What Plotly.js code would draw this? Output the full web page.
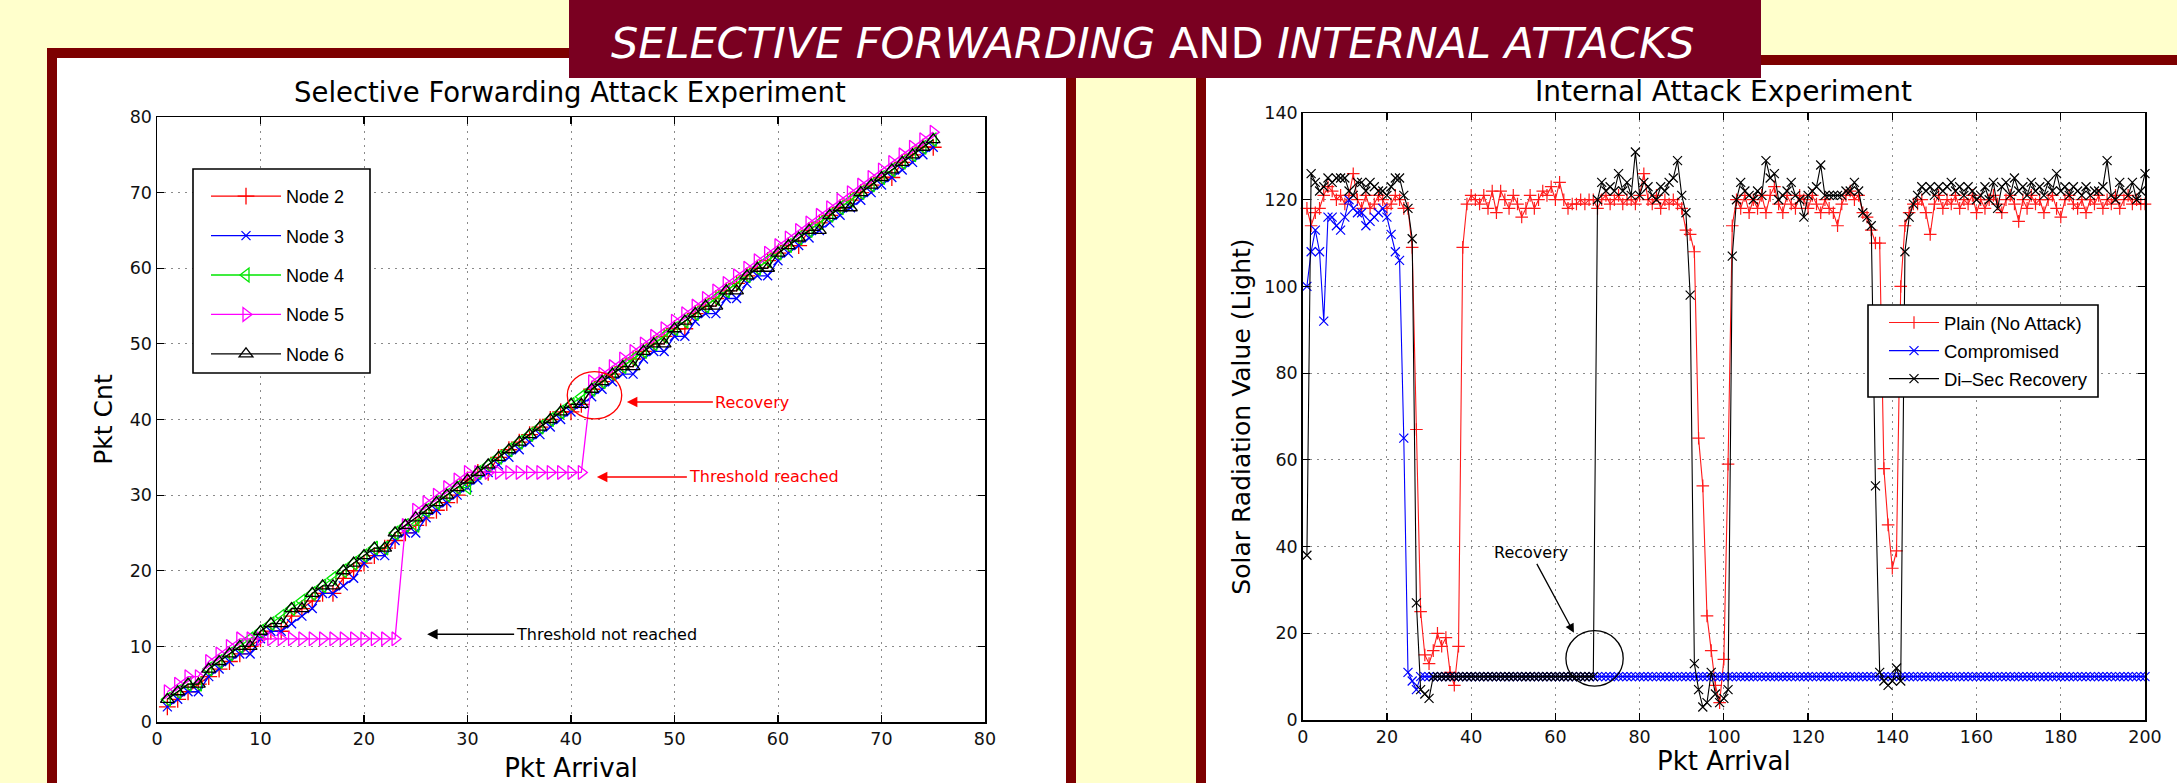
<!DOCTYPE html>
<html><head><meta charset="utf-8">
<script src="https://cdn.plot.ly/plotly-3.0.1.min.js"></script>
<style>html,body{margin:0;padding:0;background:#ffffcc;overflow:hidden}#chart{width:2177px;height:783px}</style>
</head><body><div id="chart"></div>
<script>
// ---------- Left chart: Selective Forwarding Attack Experiment ----------
const pktArrivalLeft = [1,2,3,4,5,6,7,8,9,10,11,12,13,14,15,16,17,18,19,20,21,22,23,24,25,26,27,28,29,30,31,32,33,34,35,36,37,38,39,40,41,42,43,44,45,46,47,48,49,50,51,52,53,54,55,56,57,58,59,60,61,62,63,64,65,66,67,68,69,70,71,72,73,74,75];
const node2 = [2,3,4,5,6,7,8,9,10,11, 12,12,14,15,16,17,17,19,20,21, 22,23,24,25,26,27,28,29,30,32, 33,33,35,36,37,38,39,40,41,41, 42,44,45,46,47,48,49,50,51,52, 52,54,55,56,57,58,59,60,61,62, 63,63,65,66,67,68,69,70,71,72, 72,74,75,76,76];
const node3 = [2,3,4,4,6,7,8,9,9,11, 12,12,13,14,15,17,17,18,19,21, 22,22,24,25,25,27,28,29,30,31, 32,33,34,35,36,37,38,39,40,41, 42,43,44,45,46,46,48,49,49,51, 51,53,54,54,56,56,58,59,59,61, 62,63,64,65,66,67,68,69,70,71, 72,73,74,75,76];
const node4 = [3,4,5,5,7,8,9,10,11,12, 13,14,15,16,17,18,19,20,21,22, 23,23,25,26,26,28,29,30,31,31, 33,34,35,36,37,38,39,40,41,42, 43,44,45,46,47,48,49,50,51,52, 53,54,55,56,57,58,59,60,61,62, 63,64,65,66,67,68,69,70,71,72, 73,74,75,76,77];
const node5 = [4,5,6,6,8,9,10,11,11,11, 11,11,11,11,11,11,11,11,11,11, 11,11,11,26,28,29,30,31,32,33, 33,33,33,33,33,33,33,33,33,33, 33,45,46,47,48,49,50,51,52,53, 54,55,56,57,58,59,60,61,62,63, 64,65,66,67,68,69,70,71,72,73, 74,75,76,77,78];
const node6 = [3,4,5,5,7,8,9,10,10,12, 13,13,15,15,17,18,18,20,21,22, 23,23,25,26,27,28,29,30,31,32, 33,34,35,36,37,38,39,40,41,42, 42,44,45,46,47,47,49,50,50,52, 53,54,55,55,57,57,59,60,60,62, 63,64,65,65,67,68,68,70,71,72, 73,74,75,76,77];
const leftNames = ['Node 2','Node 3','Node 4','Node 5','Node 6'];
const leftXTicks = [0,10,20,30,40,50,60,70,80];
const leftYTicks = [0,10,20,30,40,50,60,70,80];

// ---------- Right chart: Internal Attack Experiment ----------
const pktArrivalRight = [1,2,3,4,5,6,7,8,9,10,11,12,13,14,15,16,17,18,19,20,21,22,23,24,25,26,27,28,29,30,31,32,33,34,35,36,37,38,39,40,41,42,43,44,45,46,47,48,49,50,51,52,53,54,55,56,57,58,59,60,61,62,63,64,65,66,67,68,69,70,71,72,73,74,75,76,77,78,79,80,81,82,83,84,85,86,87,88,89,90,91,92,93,94,95,96,97,98,99,100,101,102,103,104,105,106,107,108,109,110,111,112,113,114,115,116,117,118,119,120,121,122,123,124,125,126,127,128,129,130,131,132,133,134,135,136,137,138,139,140,141,142,143,144,145,146,147,148,149,150,151,152,153,154,155,156,157,158,159,160,161,162,163,164,165,166,167,168,169,170,171,172,173,174,175,176,177,178,179,180,181,182,183,184,185,186,187,188,189,190,191,192,193,194,195,196,197,198,199,200];
const plainNoAttack = [118,114,117,118,121,123,122,120,121,119, 121,126,120,118,121,118,119,121,120,118, 119,121,120,118,118,109,67,25,15,13, 16,20,17,19,11,8,17,109,119,121, 120,119,121,118,122,117,122,120,118,121, 119,116,118,121,118,120,122,121,123,120, 124,120,118,119,119,120,119,120,120,118, 120,121,119,120,121,119,120,120,119,121, 126,120,119,121,118,120,119,120,119,118, 113,112,108,65,54,24,16,8,4,14, 59,114,120,118,121,117,120,118,121,117, 121,123,119,117,121,119,118,121,120,118, 121,119,117,120,118,117,114,119,121,122, 120,121,117,116,113,110,110,58,45,35, 39,100,114,117,119,119,120,117,112,119, 121,118,120,119,121,118,120,119,121,117, 120,118,120,121,119,117,120,121,119,115, 120,118,121,119,120,117,120,121,118,116, 120,121,119,118,120,117,120,119,121,118, 120,119,121,118,120,121,119,120,119,119];
const compromised = [100,108,113,108,92,116,116,114,113,116, 120,118,117,117,114,115,116,117,118,116, 112,108,106,65,11,9,7,10,10,10, 10,10,10,10,10,10,10,10,10,10, 10,10,10,10,10,10,10,10,10,10, 10,10,10,10,10,10,10,10,10,10, 10,10,10,10,10,10,10,10,10,10, 10,10,10,10,10,10,10,10,10,10, 10,10,10,10,10,10,10,10,10,10, 10,10,10,10,10,10,10,10,10,10, 10,10,10,10,10,10,10,10,10,10, 10,10,10,10,10,10,10,10,10,10, 10,10,10,10,10,10,10,10,10,10, 10,10,10,10,10,10,10,10,10,10, 10,10,10,10,10,10,10,10,10,10, 10,10,10,10,10,10,10,10,10,10, 10,10,10,10,10,10,10,10,10,10, 10,10,10,10,10,10,10,10,10,10, 10,10,10,10,10,10,10,10,10,10, 10,10,10,10,10,10,10,10,10,10];
const diSecRecovery = [38,126,124,122,123,125,124,125,125,125, 122,121,124,124,122,124,123,122,122,121, 123,125,125,121,118,111,27,7,6,5, 10,10,10,10,10,10,10,10,10,10, 10,10,10,10,10,10,10,10,10,10, 10,10,10,10,10,10,10,10,10,10, 10,10,10,10,10,10,10,10,10,120, 124,122,123,122,126,122,124,121,131,121, 124,123,121,120,123,122,124,125,129,121, 117,98,13,7,3,4,11,6,4,5, 7,107,120,124,122,121,120,122,121,129, 125,126,120,121,122,124,121,120,116,121, 122,123,128,121,121,121,121,121,122,122, 124,122,117,116,114,54,11,9,8,9, 12,9,108,116,119,121,123,122,123,121, 123,122,123,124,122,123,121,123,122,120, 121,123,120,124,118,123,124,121,125,122, 123,121,124,122,123,121,124,122,126,122, 123,121,123,122,121,123,121,122,122,123, 129,121,120,124,122,121,124,120,122,126];
const rightNames = ['Plain (No Attack)','Compromised','Di\u2013Sec Recovery'];
const rightXTicks = [0,20,40,60,80,100,120,140,160,180,200];
const rightYTicks = [0,20,40,60,80,100,120,140];

// ---------- styles ----------
const W = 2177, H = 783;
const px = v => v / W;          // pixel -> paper x
const py = v => 1 - v / H;      // pixel -> paper y
const leftColors = ['#ff0000','#0000ff','#00e600','#ff00ff','#000000'];
const leftSymbols = ['cross-thin','x-thin','triangle-left-open','triangle-right-open','triangle-up-open'];
const leftSizes = [12,9,12,12,12];
const rightColors = ['#ff1a1a','#0000ff','#000000'];
const rightSymbols = ['cross-thin','x-thin','x-thin'];
const FONT = 'DejaVu Sans, sans-serif';

const leftSeries = [node2,node3,node4,node5,node6];
const traces = [];
leftSeries.forEach((ys,i)=>{
  traces.push({
    x: pktArrivalLeft, y: ys, name: leftNames[i], type:'scatter', mode:'lines+markers',
    xaxis:'x', yaxis:'y', legend:'legend', legendgroup:'L'+i, cliponaxis:false,
    line:{color:leftColors[i], width:1.3},
    marker:{symbol:leftSymbols[i], size:leftSizes[i], color:leftColors[i], line:{color:leftColors[i], width:1.3}}
  });
});
const rightSeries = [plainNoAttack, compromised, diSecRecovery];
rightSeries.forEach((ys,i)=>{
  traces.push({
    x: pktArrivalRight, y: ys, name: rightNames[i], type:'scatter', mode:'lines+markers',
    xaxis:'x2', yaxis:'y2', legend:'legend2', legendgroup:'R'+i, cliponaxis:false,
    line:{color:rightColors[i], width:1.1},
    marker:{symbol:rightSymbols[i], size:9, color:rightColors[i], line:{color:rightColors[i], width:1.2}}
  });
});

const axisBase = {
  showline:true, linecolor:'#000', linewidth:1.5, mirror:'ticks',
  ticks:'inside', ticklen:7, tickwidth:1.2, tickcolor:'#000',
  showgrid:true, gridcolor:'#8a8a8a', gridwidth:1, griddash:'2px,5px',
  zeroline:false, automargin:false, tickmode:'array',
  tickfont:{family:FONT, size:17.5, color:'#111'}
};

const layout = {
  width:W, height:H, margin:{l:0,r:0,t:0,b:0},
  paper_bgcolor:'#ffffcc', plot_bgcolor:'#ffffff', showlegend:true,
  xaxis: Object.assign({}, axisBase, {domain:[px(157),px(985)], range:[0,80], tickvals:leftXTicks, anchor:'y',
    title:{text:'Pkt Arrival', font:{family:FONT, size:26, color:'#000'}, standoff:11}}),
  yaxis: Object.assign({}, axisBase, {domain:[py(722),py(117)], range:[0,80], tickvals:leftYTicks, anchor:'x',
    title:{text:'Pkt Cnt', font:{family:FONT, size:25, color:'#000'}, standoff:10}}),
  xaxis2: Object.assign({}, axisBase, {domain:[px(1302.7),px(2145)], range:[0,200], tickvals:rightXTicks, anchor:'y2',
    title:{text:'Pkt Arrival', font:{family:FONT, size:26, color:'#000'}, standoff:4}}),
  yaxis2: Object.assign({}, axisBase, {domain:[py(720),py(113)], range:[0,140], tickvals:rightYTicks, anchor:'x2',
    title:{text:'Solar Radiation Value (Light)', font:{family:FONT, size:25, color:'#000'}, standoff:6}}),
  legend: {x:px(206), y:py(178), xanchor:'left', yanchor:'top', bgcolor:'rgba(0,0,0,0)', borderwidth:0,
    font:{family:'Liberation Sans, Arial, sans-serif', size:18, color:'#000'}, itemwidth:70, tracegroupgap:13, traceorder:'grouped'},
  legend2: {x:px(1884), y:py(304), xanchor:'left', yanchor:'top', bgcolor:'rgba(0,0,0,0)', borderwidth:0,
    font:{family:'Liberation Sans, Arial, sans-serif', size:18.5, color:'#000'}, itemwidth:50, tracegroupgap:1, traceorder:'grouped'},
  shapes: [
    // slide panels
    {type:'rect', xref:'paper', yref:'paper', x0:px(47), x1:px(1076), y0:-0.1, y1:py(48), fillcolor:'#7d0000', line:{width:0}, layer:'below'},
    {type:'rect', xref:'paper', yref:'paper', x0:px(57), x1:px(1066), y0:-0.1, y1:py(58), fillcolor:'#ffffff', line:{width:0}, layer:'below'},
    {type:'rect', xref:'paper', yref:'paper', x0:px(1196), x1:1.1, y0:-0.1, y1:py(55), fillcolor:'#7d0000', line:{width:0}, layer:'below'},
    {type:'rect', xref:'paper', yref:'paper', x0:px(1206), x1:1.1, y0:-0.1, y1:py(65), fillcolor:'#ffffff', line:{width:0}, layer:'below'},
    // banner
    {type:'rect', xref:'paper', yref:'paper', x0:px(569), x1:px(1761), y0:py(78), y1:1.02, fillcolor:'#7a0021', line:{width:0}, layer:'above'},
    // legend frames
    {type:'rect', xref:'paper', yref:'paper', x0:px(193), x1:px(370), y0:py(373), y1:py(169), fillcolor:'#ffffff', line:{color:'#000', width:1.6}, layer:'above'},
    {type:'rect', xref:'paper', yref:'paper', x0:px(1868), x1:px(2098), y0:py(397), y1:py(305), fillcolor:'#ffffff', line:{color:'#000', width:1.6}, layer:'above'},
    // highlight circles
    {type:'circle', xref:'x', yref:'y', x0:42.27-2.63, x1:42.27+2.63, y0:43.2-3.13, y1:43.2+3.13, line:{color:'#ff0000', width:1.3}, layer:'above'},
    {type:'circle', xref:'x2', yref:'y2', x0:69.3-6.8, x1:69.3+6.8, y0:14.2-6.4, y1:14.2+6.4, line:{color:'#000', width:1.3}, layer:'above'}
  ],
  annotations: [
    {text:'<i>SELECTIVE FORWARDING</i> AND <i>INTERNAL ATTACKS</i>', xref:'paper', yref:'paper', x:px(1152), y:py(43), xanchor:'center', yanchor:'middle', showarrow:false,
      font:{family:FONT, size:43, color:'#ffffff'}},
    {text:'Selective Forwarding Attack Experiment', xref:'paper', yref:'paper', x:px(570), y:py(92), xanchor:'center', yanchor:'middle', showarrow:false,
      font:{family:FONT, size:27.5, color:'#000'}},
    {text:'Internal Attack Experiment', xref:'paper', yref:'paper', x:px(1723), y:py(92), xanchor:'center', yanchor:'middle', showarrow:false,
      font:{family:FONT, size:28, color:'#000'}},
    {text:'Recovery', xref:'x', yref:'y', x:45.4, y:42.3, ax:86, ay:0, xanchor:'left', yanchor:'middle', showarrow:true,
      arrowhead:2, arrowsize:1.4, arrowwidth:1.5, arrowcolor:'#ff0000', font:{family:FONT, size:16, color:'#ff0000'}},
    {text:'Threshold reached', xref:'x', yref:'y', x:42.5, y:32.4, ax:90, ay:0, xanchor:'left', yanchor:'middle', showarrow:true,
      arrowhead:2, arrowsize:1.4, arrowwidth:1.5, arrowcolor:'#ff0000', font:{family:FONT, size:16, color:'#ff0000'}},
    {text:'Threshold not reached', xref:'x', yref:'y', x:26.1, y:11.6, ax:87, ay:0, xanchor:'left', yanchor:'middle', showarrow:true,
      arrowhead:2, arrowsize:1.4, arrowwidth:1.5, arrowcolor:'#000', font:{family:FONT, size:16, color:'#000'}},
    {text:'Recovery', xref:'x2', yref:'y2', x:64.4, y:20.1, ax:-43, ay:-80, showarrow:true,
      arrowhead:2, arrowsize:1.4, arrowwidth:1.3, arrowcolor:'#000', font:{family:FONT, size:16, color:'#000'}}
  ]
};

Plotly.newPlot('chart', traces, layout, {displayModeBar:false, staticPlot:true});
</script>
</body></html>
